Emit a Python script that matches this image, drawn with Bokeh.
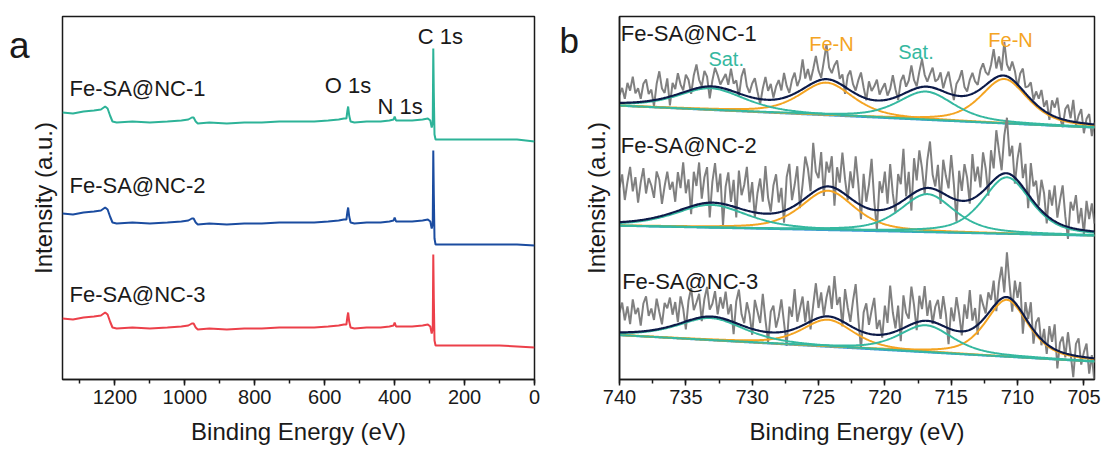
import numpy as np
from bokeh.plotting import figure
from bokeh.models import Range1d, SingleIntervalTicker, FixedTicker, Label
from bokeh.layouts import row
from bokeh.embed import file_html
from bokeh.resources import INLINE

FONT = "Liberation Sans"

# ---------------- Panel a : XPS survey spectra ----------------
survey_energy = [1350, 1320, 1290, 1260, 1240, 1228, 1221, 1214, 1207, 1195,
                 1150, 1100, 1050, 1010, 990, 980, 975, 969, 963, 930,
                 880, 830, 780, 730, 680, 630, 590, 560, 545, 538,
                 535, 533, 530, 526, 515, 480, 440, 415, 403, 400,
                 396, 380, 350, 320, 305, 298, 294, 291, 289.5, 288,
                 286, 283, 250, 200, 150, 100, 50, 0]
survey_nc1 = [267, 266, 268, 269, 270, 273, 271, 264, 258, 257,
              258, 257, 258, 259, 260, 262, 262, 258, 256, 257,
              256, 257, 257, 258, 258, 258, 259, 260, 261, 261,
              269, 273, 264, 258, 257, 258, 258, 259, 260, 263,
              259, 259, 259, 260, 261, 259, 252, 257, 331, 287,
              245, 240, 240, 240, 240, 240, 240, 238]
survey_nc2 = [166, 165, 167, 168, 169, 172, 170, 163, 157, 156,
              157, 156, 157, 158, 159, 161, 161, 157, 155, 156,
              155, 156, 156, 157, 157, 157, 158, 159, 160, 160,
              168, 172, 163, 157, 156, 157, 157, 158, 159, 162,
              158, 158, 158, 159, 160, 158, 151, 156, 229, 185,
              141, 135, 135, 135, 135, 135, 135, 134]
survey_nc3 = [61, 60, 62, 63, 64, 67, 65, 58, 52, 51,
              52, 51, 52, 53, 54, 56, 56, 52, 50, 51,
              50, 51, 51, 52, 52, 52, 53, 54, 55, 55,
              63, 67, 58, 52, 51, 52, 52, 53, 54, 57,
              53, 53, 53, 54, 55, 53, 46, 51, 125, 81,
              39, 34, 34, 34, 34, 34, 33, 32]
survey_names = ["Fe-SA@NC-1", "Fe-SA@NC-2", "Fe-SA@NC-3"]

# ---------------- Panel b : Fe 2p fitted spectra ----------------
fe_start, fe_step, fe_count = 740.0, 0.2, 180
peak_names = ["Sat.", "Fe-N", "Sat.", "Fe-N"]

nc1_background = [276, 254]
nc1_centers = [733.1, 724.4, 716.9, 711.0]
nc1_heights = [21.9, 32.9, 28.5, 44.8]
nc1_fwhm = [6.0, 4.8, 5.0, 4.2]
nc1_residual = [8, 15, 4, 20, 12, 26, 9, 14, 3, 18, 22, 7, 11, -6, 16, 28, 10, 5, 19, -9,
                13, 6, 21, 9, 2, 17, 11, -4, 14, 24, 8, 1, 16, 10, -12, 6, 19, 12, 3, 9,
                15, 5, 22, 8, 12, -3, 18, 27, 10, 4, 14, 20, 7, -5, 11, 23, 9, 16, 2, 13,
                19, 8, 25, 11, 3, 15, 21, 6, 12, 30, 9, 17, 4, 14, 26, 10, 2, 18, 35, 12,
                7, 16, 22, 5, 11, -7, 13, 20, 8, 3, 15, 24, 10, -2, 18, 9, 14, 21, 6, 12,
                17, 4, 10, 23, 8, -4, 14, 19, 6, 11, 25, 9, 2, 16, 28, 12, 5, 13, 20, 7,
                10, 18, 3, 14, 22, 8, -5, 12, 17, 26, 9, 4, 15, 21, 11, 6, 19, 24, 13, 8,
                16, 30, 9, 20, 5, 34, 12, 7, 18, 11, -3, 14, 22, 6, 10, 17, 2, 13, 8, 19,
                4, 12, -6, 15, 9, 20, 1, -8, 11, 16, 3, 22, -4, 7, 14, -10, 5, 10, -12, 2]

nc2_background = [155, 145]
nc2_centers = [733.1, 724.3, 716.8, 710.8]
nc2_heights = [23.0, 39.7, 38.4, 57.0]
nc2_fwhm = [6.5, 4.8, 4.8, 4.3]
nc2_residual = [35, 48, 22, 40, 55, 30, 44, 18, 38, 52, 26, 41, 33, 20, 46, 37, 12, 29, 43, 24,
                31, 10, 39, 22, 47, 15, 28, -8, 34, 19, 42, 5, 26, 36, -15, 21, 40, 11, 30, -22,
                18, 33, 4, 27, -10, 38, 14, 25, 44, 9, 30, -5, 20, 35, 12, 48, 16, 2, 28, 39,
                10, 24, -12, 33, 45, 7, 21, 38, -6, 16, 42, 28, 3, 50, 19, 11, 36, -9, 25, 14,
                31, -18, 22, 8, 40, 15, -4, 27, 12, 46, 20, -14, 33, 6, 24, 51, 9, -20, 29, 17,
                38, 5, 44, 13, -8, 30, 18, 52, 2, 25, -16, 35, 11, 40, 21, -6, 28, 47, 14, 3,
                26, -12, 34, 19, 8, 43, 15, -22, 30, 10, 37, 23, -4, 45, 16, 29, 6, 39, 20, -10,
                33, 12, 48, 25, 4, 38, 56, 18, 30, -6, 22, 41, 9, 27, -14, 35, 15, 24, 2, 31,
                20, -8, 28, 14, 36, 5, 24, 40, 10, -12, 26, 18, 34, 6, 22, -4, 30, 12, 28, 8]

nc3_background = [44.7, 18.0]
nc3_centers = [733.1, 724.3, 716.9, 710.8]
nc3_heights = [22.4, 27.3, 27.2, 57.4]
nc3_fwhm = [6.0, 4.6, 4.8, 3.8]
nc3_residual = [20, 30, 12, 26, 8, 33, 18, 24, 6, 28, 35, 15, 22, 10, 31, 17, 4, 25, 19, 29,
                11, 23, 2, 27, 14, -8, 20, 32, 9, 16, 24, -4, 18, 30, 7, 13, 26, 3, 21, 10,
                28, 6, 17, -12, 22, 35, 11, 3, 25, 14, -6, 30, 19, 8, 38, 12, -10, 21, 27, 5,
                16, 33, 9, -15, 24, 13, 40, 6, 18, 29, 2, 22, -8, 15, 36, 10, 25, 1, 19, 31,
                8, 42, 14, 23, -5, 34, 17, 4, 27, 45, 12, -18, 20, 30, 9, 24, 37, 6, 15, -3,
                29, 11, 48, 20, 3, 25, -12, 33, 14, 7, 38, 18, -8, 26, 12, 35, 5, 21, -2, 16,
                24, 6, 30, 13, -16, 22, 9, 34, 17, -4, 27, 12, 40, 8, 19, -10, 28, 15, 3, 21,
                10, 26, -8, 18, 32, 5, 45, 14, -12, 22, 8, 28, -20, 16, 3, 24, -14, 11, 19, -6,
                13, -10, 20, 6, 25, -18, 9, 16, -4, 22, 1, -22, 12, 18, -8, 5, 14, -16, 3, -25]

panel_letters = ["a", "b"]
y_title = "Intensity (a.u.)"
x_title = "Binding Energy (eV)"

# ---------------- styles ----------------
SURVEY_COLORS = ["#2DB398", "#1B4CA0", "#EC404A"]
TEAL = "#35B8A0"
ORANGE = "#F4A422"
NAVY = "#0C1A48"
GRAY = "#808080"
BGBLUE = "#3C98D8"
TXT = "#1a1a1a"

H = 455


def style(p):
    p.outline_line_color = TXT
    p.outline_line_width = 1.5
    p.xgrid.grid_line_color = None
    p.ygrid.grid_line_color = None
    p.background_fill_color = "white"
    p.border_fill_color = "white"
    ax = p.xaxis[0]
    ax.axis_line_width = 1.5
    ax.axis_line_color = TXT
    ax.major_tick_line_width = 1.5
    ax.minor_tick_line_width = 1.5
    ax.major_tick_line_color = TXT
    ax.minor_tick_line_color = TXT
    ax.major_tick_in = 0
    ax.major_tick_out = 6
    ax.minor_tick_in = 0
    ax.minor_tick_out = 4
    ax.major_label_text_font = FONT
    ax.major_label_text_font_size = "20px"
    ax.major_label_text_color = TXT
    ax.major_label_standoff = 4
    ax.axis_label = x_title
    ax.axis_label_text_font = FONT
    ax.axis_label_text_font_size = "24px"
    ax.axis_label_text_font_style = "normal"
    ax.axis_label_text_color = TXT
    ax.axis_label_standoff = 11


def add_text(p, x, y, text, color=TXT, size="22px", baseline="middle", align="left", angle=0.0):
    p.add_layout(Label(x=x, y=y, text=text, angle=angle,
                       text_font=FONT, text_font_size=size, text_color=color,
                       text_align=align, text_baseline=baseline))


def side_strip(width, x0, top, bottom):
    """Narrow strip left of a panel holding the panel letter (pixel coordinates)."""
    s = figure(width=width, height=H, x_range=Range1d(x0, x0 + width), y_range=Range1d(H - bottom, top),
               output_backend="svg", toolbar_location=None, x_axis_type=None, y_axis_type=None,
               min_border_left=0, min_border_right=0, min_border_top=top, min_border_bottom=bottom,
               outline_line_color=None)
    s.xgrid.visible = False
    s.ygrid.visible = False
    s.background_fill_color = "white"
    s.border_fill_color = "white"
    return s


# ---------------- panel a ----------------
sa = side_strip(60, 0, 16, 76)
add_text(sa, 8.5, 45, panel_letters[0], size="37px", baseline="alphabetic")
add_text(sa, 43, 197.5, y_title, size="24px", baseline="alphabetic", align="center", angle=np.pi / 2)

pa = figure(width=490, height=H, x_range=Range1d(1350, 0), y_range=Range1d(0, 363),
            output_backend="svg", toolbar_location=None, y_axis_type=None,
            min_border_left=2, min_border_right=16, min_border_top=16, min_border_bottom=76)
style(pa)
pa.xaxis[0].ticker = SingleIntervalTicker(interval=200, num_minor_ticks=2)

for ys, c in zip([survey_nc1, survey_nc2, survey_nc3], SURVEY_COLORS):
    pa.line(survey_energy, ys, line_color=c, line_width=2)

add_text(pa, 1330, 290.7, survey_names[0])
add_text(pa, 1330, 194, survey_names[1])
add_text(pa, 1330, 85, survey_names[2])
add_text(pa, 600, 294, "O 1s")
add_text(pa, 449, 273.5, "N 1s")
add_text(pa, 334, 343.5, "C 1s")

# ---------------- panel b ----------------
sb = side_strip(28, 550, 16, 73)
add_text(sb, 559, 40.5, panel_letters[1], size="35px", baseline="alphabetic")

pb = figure(width=525, height=H, x_range=Range1d(740, 704.2), y_range=Range1d(0, 366),
            output_backend="svg", toolbar_location=None,
            min_border_left=41, min_border_right=9, min_border_top=16, min_border_bottom=73)
style(pb)
pb.xaxis[0].ticker = SingleIntervalTicker(interval=5, num_minor_ticks=2)
ay = pb.yaxis[0]
ay.ticker = FixedTicker(ticks=[])
ay.axis_line_width = 1.5
ay.axis_line_color = TXT
ay.major_label_standoff = 0
ay.axis_label = y_title
ay.axis_label_text_font = FONT
ay.axis_label_text_font_size = "24px"
ay.axis_label_text_font_style = "normal"
ay.axis_label_text_color = TXT
ay.axis_label_standoff = 10

x_data = np.round(fe_start - fe_step * np.arange(fe_count), 2)
x_fit = np.linspace(fe_start, x_data[-1], 601)


def pseudo_voigt(x, c, h, w, eta=0.55):
    d = (x - c) / w
    return h * (eta / (1 + 4 * d * d) + (1 - eta) * np.exp(-4 * np.log(2) * d * d))


def background(x, bg):
    return np.interp(x, [x_data[-1], fe_start], [bg[1], bg[0]])


spectra = [
    (nc1_background, nc1_centers, nc1_heights, nc1_fwhm, nc1_residual, [TEAL, ORANGE, TEAL, ORANGE]),
    (nc2_background, nc2_centers, nc2_heights, nc2_fwhm, nc2_residual, [TEAL, ORANGE, TEAL, TEAL]),
    (nc3_background, nc3_centers, nc3_heights, nc3_fwhm, nc3_residual, [TEAL, ORANGE, TEAL, ORANGE]),
]

for bg, cs, hs, ws, res, cols in spectra:
    assert len(res) == fe_count
    env_data = background(x_data, bg) + sum(pseudo_voigt(x_data, c, h, w) for c, h, w in zip(cs, hs, ws))
    pb.line(x_data, env_data + np.array(res, dtype=float), line_color=GRAY, line_width=2)
    bgl = background(x_fit, bg)
    pb.line(x_fit, bgl, line_color=BGBLUE, line_width=2)
    order = [1, 3, 0, 2]  # orange first, teal over it
    for i in order:
        pb.line(x_fit, bgl + pseudo_voigt(x_fit, cs[i], hs[i], ws[i]), line_color=cols[i], line_width=2)
    env = bgl + sum(pseudo_voigt(x_fit, c, h, w) for c, h, w in zip(cs, hs, ws))
    pb.line(x_fit, env, line_color=NAVY, line_width=2.2)

add_text(pb, 739.9, 348.7, survey_names[0])
add_text(pb, 739.9, 235.7, survey_names[1])
add_text(pb, 739.8, 99, survey_names[2])
add_text(pb, 733.3, 322.7, peak_names[0], color=TEAL, size="20px")
add_text(pb, 725.7, 338.7, peak_names[1], color=ORANGE, size="20px")
add_text(pb, 719.0, 330.3, peak_names[2], color=TEAL, size="20px")
add_text(pb, 712.2, 342, peak_names[3], color=ORANGE, size="20px")

layout = row(sa, pa, sb, pb)
open("out.html", "w").write(file_html(layout, INLINE))
